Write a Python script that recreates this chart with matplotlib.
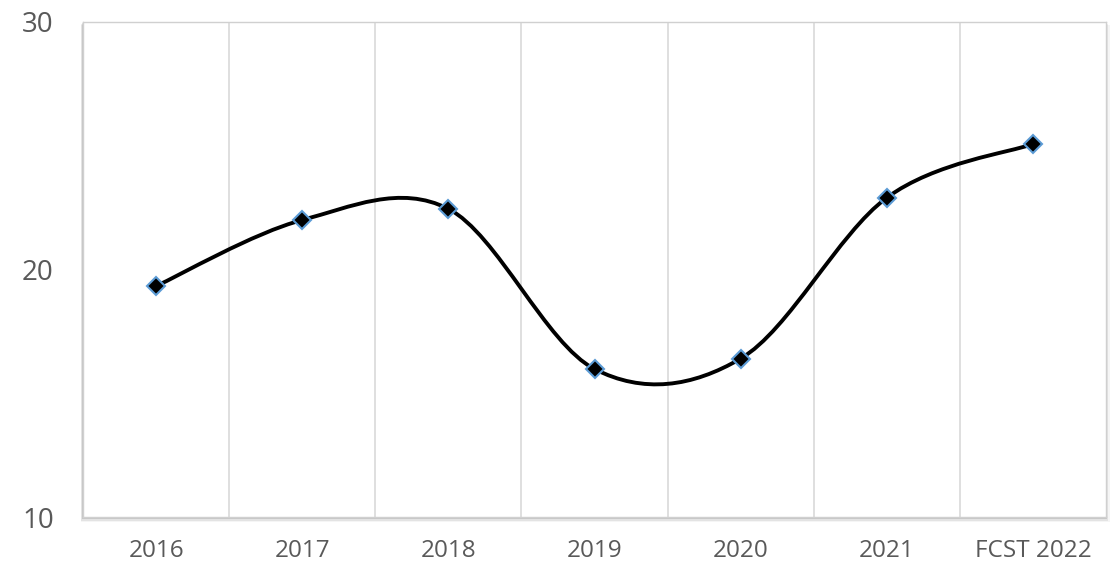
import matplotlib

matplotlib.use("Agg")
import matplotlib.pyplot as plt
import numpy as np
from matplotlib.patches import PathPatch, Rectangle
from matplotlib.path import Path

plt.rcParams["font.family"] = ["Open Sans", "DejaVu Sans"]

categories = ["2016", "2017", "2018", "2019", "2020", "2021", "FCST 2022"]
values = [19.33, 22.0, 22.45, 15.98, 16.4, 22.9, 25.07]
y_ticks = [10, 20, 30]

TEXT = "#595959"
GRID = "#d9d9d9"


def smooth_path(x, y, k=1 / 6):
    # excel-style smoothed line: cubic bezier, catmull-rom control points
    x = np.asarray(x, float)
    y = np.asarray(y, float)
    n = len(x)
    verts = [(x[0], y[0])]
    codes = [Path.MOVETO]
    for i in range(n - 1):
        i0, i3 = max(i - 1, 0), min(i + 2, n - 1)
        c1 = (x[i] + (x[i + 1] - x[i0]) * k, y[i] + (y[i + 1] - y[i0]) * k)
        c2 = (x[i + 1] - (x[i3] - x[i]) * k, y[i + 1] - (y[i3] - y[i]) * k)
        verts += [c1, c2, (x[i + 1], y[i + 1])]
        codes += [Path.CURVE4] * 3
    return Path(verts, codes)


fig = plt.figure(figsize=(11.2, 5.64), dpi=100)
l, b, w, h = 83 / 1120, 1 - 517 / 564, (1106 - 83) / 1120, (517 - 22) / 564

# soft shadow round the plot area (drawn behind the axes)
for i, a in enumerate([0.12, 0.07, 0.04]):
    dx, dy = (i + 1) / 1120, (i + 1) / 564
    fig.patches.append(Rectangle((l - dx * 0.8, b - dy * 1.8), w + dx * 2.0, h + dy * 0.8,
                                 transform=fig.transFigure, facecolor="black",
                                 alpha=a, edgecolor="none", zorder=0))

ax = fig.add_axes([l, b, w, h])
ax.set_zorder(2)
ax.set_facecolor("white")

xs = np.arange(len(categories))
ax.add_patch(PathPatch(smooth_path(xs, values), facecolor="none", edgecolor="black",
                       lw=2.8, zorder=3, capstyle="round"))
ax.plot(xs, values, ls="none", marker="D", ms=9.5, mfc="black", mec="#5b9bd5",
        mew=1.5, zorder=4)

ax.set_xlim(-0.5, len(categories) - 0.5)
ax.set_ylim(10, 30)
ax.set_yticks(y_ticks)
ax.set_xticks(xs)
ax.set_xticklabels(categories)
ax.set_xticks(xs[:-1] + 0.5, minor=True)
ax.grid(True, which="minor", axis="x", color=GRID, lw=1.2)
ax.tick_params(which="both", length=0)
ax.tick_params(axis="y", labelsize=20, labelcolor=TEXT, pad=21)
ax.tick_params(axis="x", labelsize=17.5, labelcolor=TEXT, pad=16)
for lab in ax.get_xticklabels():
    lab.set_fontstretch("expanded")
for s in ax.spines.values():
    s.set_color("#d0d0d0")
    s.set_linewidth(1.0)

fig.savefig("out.png", dpi=100)
